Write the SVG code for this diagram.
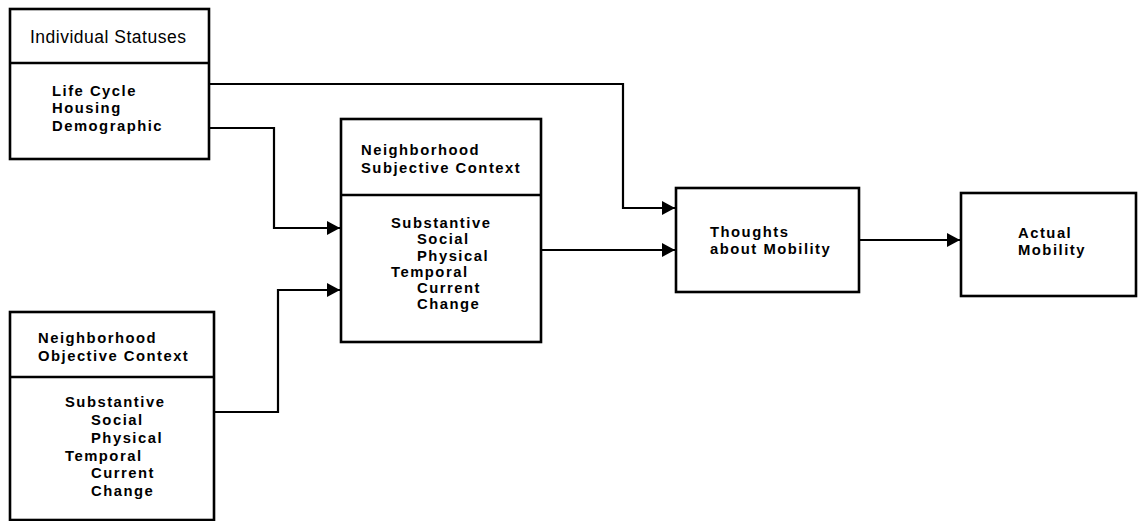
<svg xmlns="http://www.w3.org/2000/svg" width="1138" height="521" viewBox="0 0 1138 521">
  <style>
    .box { fill: #fff; stroke: #000; stroke-width: 2.6; }
    .div { stroke: #000; stroke-width: 2.4; }
    .wire { fill: none; stroke: #000; stroke-width: 2.2; }
    text { font-family: "Liberation Sans", Arial, sans-serif; fill: #000; }
    .title { font-size: 17.5px; letter-spacing: 0.5px; }
    .lbl { font-size: 14.8px; font-weight: bold; letter-spacing: 1.5px; }
  </style>
  <defs>
    <marker id="arrow" markerUnits="userSpaceOnUse" markerWidth="15" markerHeight="15" refX="13" refY="7" orient="auto">
      <path d="M0,0 L13,7 L0,14 Z" fill="#000"/>
    </marker>
  </defs>

  <rect width="1138" height="521" fill="#fff"/>

  <!-- connectors -->
  <g id="connectors">
    <path class="wire" d="M209,84 H623 V208 H675" marker-end="url(#arrow)"/>
    <path class="wire" d="M209,128 H274 V228 H340" marker-end="url(#arrow)"/>
    <path class="wire" d="M214,412 H278 V290 H340" marker-end="url(#arrow)"/>
    <path class="wire" d="M541,250 H675" marker-end="url(#arrow)"/>
    <path class="wire" d="M859,240 H960" marker-end="url(#arrow)"/>
  </g>

  <!-- Individual Statuses -->
  <g id="individual-statuses">
    <rect class="box" x="10" y="9" width="199" height="150"/>
    <line class="div" x1="10" y1="63" x2="209" y2="63"/>
    <text class="title" x="30" y="43">Individual Statuses</text>
    <text class="lbl" x="52" y="96">Life Cycle</text>
    <text class="lbl" x="52" y="113">Housing</text>
    <text class="lbl" x="52" y="131">Demographic</text>
  </g>

  <!-- Neighborhood Objective Context -->
  <g id="objective-context">
    <rect class="box" x="10" y="312" width="204" height="208"/>
    <line class="div" x1="10" y1="377" x2="214" y2="377"/>
    <text class="lbl" x="38" y="343">Neighborhood</text>
    <text class="lbl" x="38" y="361">Objective Context</text>
    <text class="lbl" x="65" y="407">Substantive</text>
    <text class="lbl" x="91" y="425">Social</text>
    <text class="lbl" x="91" y="443">Physical</text>
    <text class="lbl" x="65" y="461">Temporal</text>
    <text class="lbl" x="91" y="478">Current</text>
    <text class="lbl" x="91" y="496">Change</text>
  </g>

  <!-- Neighborhood Subjective Context -->
  <g id="subjective-context">
    <rect class="box" x="341" y="119" width="200" height="223"/>
    <line class="div" x1="341" y1="195" x2="541" y2="195"/>
    <text class="lbl" x="361" y="155">Neighborhood</text>
    <text class="lbl" x="361" y="173">Subjective Context</text>
    <text class="lbl" x="391" y="228">Substantive</text>
    <text class="lbl" x="417" y="244">Social</text>
    <text class="lbl" x="417" y="261">Physical</text>
    <text class="lbl" x="391" y="277">Temporal</text>
    <text class="lbl" x="417" y="293">Current</text>
    <text class="lbl" x="417" y="309">Change</text>
  </g>

  <!-- Thoughts about Mobility -->
  <g id="thoughts">
    <rect class="box" x="676" y="188" width="183" height="104"/>
    <text class="lbl" x="710" y="237">Thoughts</text>
    <text class="lbl" x="710" y="254">about Mobility</text>
  </g>

  <!-- Actual Mobility -->
  <g id="actual-mobility">
    <rect class="box" x="961" y="193" width="175" height="103"/>
    <text class="lbl" x="1018" y="238">Actual</text>
    <text class="lbl" x="1018" y="255">Mobility</text>
  </g>
</svg>
